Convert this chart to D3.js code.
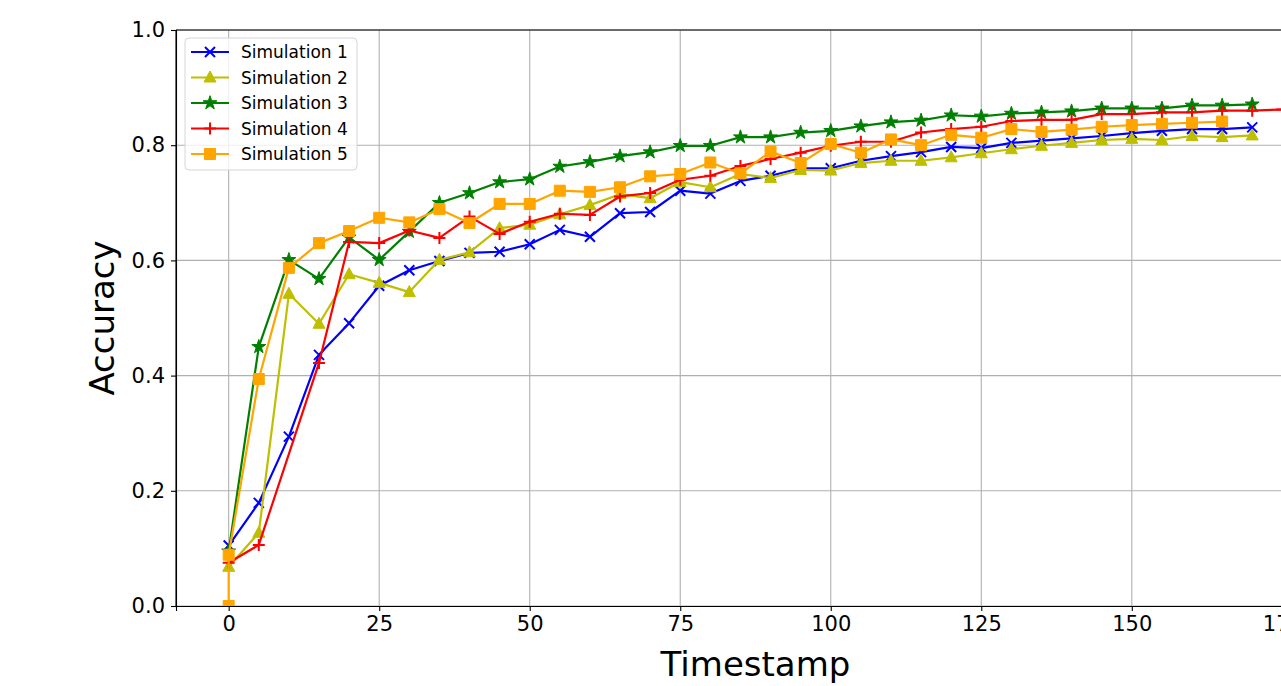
<!DOCTYPE html>
<html>
<head>
<meta charset="utf-8">
<script src="https://cdn.jsdelivr.net/npm/d3@7"></script>
<style>
  html, body { margin: 0; padding: 0; background: #fff; overflow: hidden; }
  svg { display: block; font-family: "DejaVu Sans", sans-serif; }
</style>
</head>
<body>
<svg id="chart" width="1281" height="686"></svg>
<script>
// ---- data ----
var timestamps = [0, 5, 10, 15, 20, 25, 30, 35, 40, 45, 50, 55, 60, 65, 70, 75, 80, 85,
                  90, 95, 100, 105, 110, 115, 120, 125, 130, 135, 140, 145, 150, 155, 160, 165, 170, 175];

var sim1 = [0.105, 0.179, 0.294, 0.436, 0.491, 0.556, 0.583, 0.599, 0.613, 0.615, 0.628, 0.653, 0.641, 0.682, 0.684, 0.721, 0.716, 0.738,
            0.747, 0.760, 0.760, 0.773, 0.781, 0.788, 0.797, 0.795, 0.804, 0.808, 0.812, 0.816, 0.821, 0.825, 0.828, 0.828, 0.831];
var sim2 = [0.068, 0.127, 0.542, 0.490, 0.576, 0.561, 0.545, 0.601, 0.614, 0.656, 0.662, 0.680, 0.696, 0.715, 0.708, 0.736, 0.727, 0.750,
            0.743, 0.757, 0.756, 0.769, 0.773, 0.773, 0.779, 0.786, 0.793, 0.799, 0.804, 0.809, 0.811, 0.809, 0.816, 0.814, 0.817];
var sim3 = [0.095, 0.450, 0.601, 0.568, 0.640, 0.601, 0.650, 0.700, 0.717, 0.736, 0.741, 0.763, 0.771, 0.781, 0.788, 0.799, 0.799, 0.814,
            0.814, 0.822, 0.825, 0.833, 0.840, 0.843, 0.852, 0.850, 0.855, 0.857, 0.859, 0.864, 0.864, 0.864, 0.869, 0.869, 0.871];
// simulation 4 has no marker at t = 10
var sim4x = [0, 5, 15, 20, 25, 30, 35, 40, 45, 50, 55, 60, 65, 70, 75, 80, 85,
             90, 95, 100, 105, 110, 115, 120, 125, 130, 135, 140, 145, 150, 155, 160, 165, 170, 175];
var sim4 = [0.075, 0.106, 0.422, 0.632, 0.630, 0.652, 0.639, 0.676, 0.646, 0.667, 0.681, 0.679, 0.711, 0.717, 0.740, 0.747, 0.764,
            0.776, 0.787, 0.799, 0.806, 0.806, 0.822, 0.828, 0.832, 0.842, 0.844, 0.844, 0.854, 0.854, 0.857, 0.857, 0.860, 0.860, 0.862];
// simulation 5 starts with two points at t = 0
var sim5x = [0, 0, 5, 10, 15, 20, 25, 30, 35, 40, 45, 50, 55, 60, 65, 70, 75, 80, 85,
             90, 95, 100, 105, 110, 115, 120, 125, 130, 135, 140, 145, 150, 155, 160, 165];
var sim5 = [0.0, 0.089, 0.394, 0.587, 0.630, 0.651, 0.674, 0.666, 0.689, 0.665, 0.698, 0.698, 0.721, 0.719, 0.727, 0.746, 0.750, 0.770, 0.751,
            0.789, 0.769, 0.802, 0.787, 0.810, 0.800, 0.818, 0.813, 0.828, 0.823, 0.827, 0.832, 0.835, 0.837, 0.839, 0.841];

var seriesNames = ["Simulation 1", "Simulation 2", "Simulation 3", "Simulation 4", "Simulation 5"];
var seriesColors = ["#0000ff", "#bfbf00", "#008000", "#ff0000", "#ffa500"];
var seriesMarkers = ["x", "triangle", "star", "plus", "square"];

var xTicks = [0, 25, 50, 75, 100, 125, 150, 175];
var yTicks = [0.0, 0.2, 0.4, 0.6, 0.8, 1.0];

// ---- layout ----
var svg = d3.select("#chart");
var plot = { left: 176, top: 30, bottom: 606, right: 1335 };

var x = d3.scaleLinear().domain([-8.75, 183.75]).range([plot.left, plot.right]);
var y = d3.scaleLinear().domain([0, 1]).range([plot.bottom, plot.top]);

svg.append("defs").append("clipPath").attr("id", "plotclip")
   .append("rect")
   .attr("x", plot.left).attr("y", plot.top)
   .attr("width", plot.right - plot.left).attr("height", plot.bottom - plot.top);

// grid
var grid = svg.append("g").attr("class", "grid");
grid.selectAll("line.gx").data(xTicks).enter().append("line")
    .attr("x1", function(d){ return x(d); }).attr("x2", function(d){ return x(d); })
    .attr("y1", plot.top).attr("y2", plot.bottom)
    .attr("stroke", "#b0b0b0").attr("stroke-width", 1.1);
grid.selectAll("line.gy").data(yTicks).enter().append("line")
    .attr("y1", function(d){ return y(d); }).attr("y2", function(d){ return y(d); })
    .attr("x1", plot.left).attr("x2", plot.right)
    .attr("stroke", "#b0b0b0").attr("stroke-width", 1.1);

// marker shapes (pixel sizes)
function markerPath(kind){
    if ( kind == "x" )        return "M-5,-5L5,5M-5,5L5,-5";
    if ( kind == "plus" )     return "M-6,0L6,0M0,-6L0,6";
    if ( kind == "triangle" ) return "M0,-6.5L6,4.5L-6,4.5Z";
    if ( kind == "square" )   return "M-5.5,-5.5H5.5V5.5H-5.5Z";
    if ( kind == "star" )     return d3.symbol().type(d3.symbolStar).size(60)();
    return "";
}
function isStroked(kind){ return kind == "x" || kind == "plus"; }

var allSeries = [
    { xs: timestamps.slice(0, sim1.length), ys: sim1 },
    { xs: timestamps.slice(0, sim2.length), ys: sim2 },
    { xs: timestamps.slice(0, sim3.length), ys: sim3 },
    { xs: sim4x, ys: sim4 },
    { xs: sim5x, ys: sim5 }
];

var line = d3.line()
    .x(function(d){ return x(d[0]); })
    .y(function(d){ return y(d[1]); });

var dataLayer = svg.append("g").attr("clip-path", "url(#plotclip)");

allSeries.forEach(function(s, i){
    var pts = s.xs.map(function(t, k){ return [t, s.ys[k]]; });
    var g = dataLayer.append("g").attr("class", "series");
    g.append("path").datum(pts)
     .attr("d", line)
     .attr("fill", "none")
     .attr("stroke", seriesColors[i])
     .attr("stroke-width", 2.2)
     .attr("stroke-linejoin", "round");
    var kind = seriesMarkers[i];
    g.selectAll("path.mk").data(pts).enter().append("path")
     .attr("class", "mk")
     .attr("transform", function(d){ return "translate(" + x(d[0]) + "," + y(d[1]) + ")"; })
     .attr("d", markerPath(kind))
     .attr("fill", isStroked(kind) ? "none" : seriesColors[i])
     .attr("stroke", seriesColors[i])
     .attr("stroke-width", isStroked(kind) ? 2 : 1);
});

// spines
svg.append("line").attr("x1", plot.left).attr("x2", plot.left).attr("y1", plot.top).attr("y2", plot.bottom)
   .attr("stroke", "#000").attr("stroke-width", 1.1);
svg.append("line").attr("x1", plot.left).attr("x2", plot.right).attr("y1", plot.top).attr("y2", plot.top)
   .attr("stroke", "#000").attr("stroke-width", 1.1);

// axes
var xAxis = svg.append("g").attr("transform", "translate(0," + plot.bottom + ")")
    .call(d3.axisBottom(x).tickValues(xTicks).tickSize(5).tickPadding(5).tickFormat(d3.format("d")));
var yAxis = svg.append("g").attr("transform", "translate(" + plot.left + ",0)")
    .call(d3.axisLeft(y).tickValues(yTicks).tickSize(5).tickPadding(6).tickFormat(d3.format(".1f")));
[xAxis, yAxis].forEach(function(a){
    a.select(".domain").attr("stroke", "#000").attr("stroke-width", 1.1);
    a.selectAll(".tick line").attr("stroke", "#000").attr("stroke-width", 1.1);
    a.selectAll(".tick text").attr("fill", "#000")
     .style("font-family", "DejaVu Sans").style("font-size", "21px");
});

// axis labels
svg.append("text")
   .attr("x", (plot.left + plot.right) / 2).attr("y", 676)
   .attr("text-anchor", "middle")
   .style("font-size", "34px")
   .text("Timestamp");
svg.append("text")
   .attr("transform", "translate(114," + ((plot.top + plot.bottom) / 2) + ") rotate(-90)")
   .attr("text-anchor", "middle")
   .style("font-size", "34px")
   .text("Accuracy");

// legend
var legend = svg.append("g").attr("transform", "translate(185,38)");
legend.append("rect")
      .attr("width", 172).attr("height", 132).attr("rx", 4)
      .attr("fill", "#fff").attr("fill-opacity", 0.8)
      .attr("stroke", "#d6d6d6").attr("stroke-width", 1);
seriesNames.forEach(function(name, i){
    var row = legend.append("g").attr("transform", "translate(0," + (14 + i * 25.5) + ")");
    row.append("line").attr("x1", 6).attr("x2", 44).attr("y1", 0).attr("y2", 0)
       .attr("stroke", seriesColors[i]).attr("stroke-width", 2.2);
    var kind = seriesMarkers[i];
    row.append("path").attr("transform", "translate(25,0)")
       .attr("d", markerPath(kind))
       .attr("fill", isStroked(kind) ? "none" : seriesColors[i])
       .attr("stroke", seriesColors[i])
       .attr("stroke-width", isStroked(kind) ? 2 : 1);
    row.append("text").attr("x", 56).attr("y", 6)
       .style("font-size", "17px")
       .text(name);
});
</script>
</body>
</html>
